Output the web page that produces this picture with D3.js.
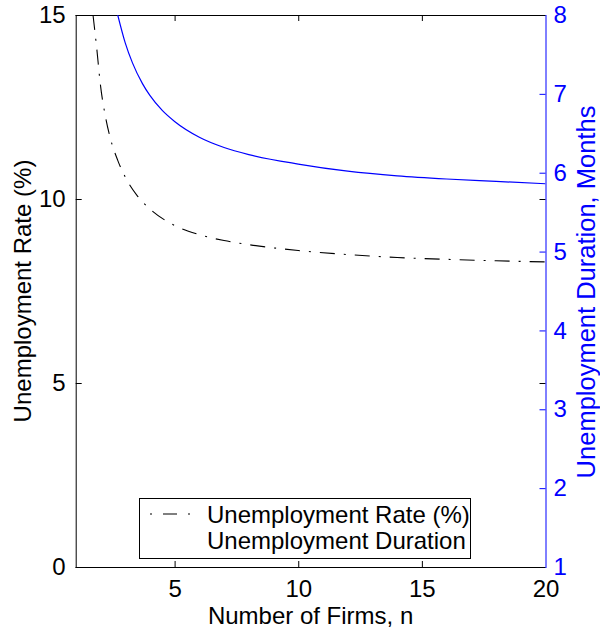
<!DOCTYPE html>
<html>
<head>
<meta charset="utf-8">
<script src="https://cdn.jsdelivr.net/npm/d3@7"></script>
<style>
  html, body { margin: 0; padding: 0; background: #fff; }
  svg { display: block; font-family: "Liberation Sans", Arial, Helvetica, sans-serif; }
</style>
</head>
<body>
<svg id="chart" width="600" height="636"></svg>
<script>
// ---- data ----
const firmsRate = [1.7, 1.85, 2.0, 2.2, 2.4, 2.7, 3.0, 3.5, 4.0, 5.0, 6.0, 7.0, 8.0, 10, 12, 14, 16, 18, 20];
const rateValues = [15.0, 14.1, 13.1, 12.25, 11.65, 11.05, 10.6, 10.08, 9.73, 9.28, 9.03, 8.87, 8.76, 8.6, 8.49, 8.41, 8.36, 8.32, 8.29];
const firmsDur = [2.7, 3.0, 3.3, 3.7, 4.0, 4.5, 5.0, 6.0, 7.0, 8.0, 10, 12, 14, 16, 18, 20];
const durValues = [8.0, 7.65, 7.39, 7.13, 6.98, 6.79, 6.65, 6.45, 6.32, 6.23, 6.11, 6.02, 5.96, 5.92, 5.89, 5.86];
const xTicks = [5, 10, 15, 20];
const yLeftTicks = [0, 5, 10, 15];
const yRightTicks = [1, 2, 3, 4, 5, 6, 7, 8];
const legendLabels = ["Unemployment Rate (%)", "Unemployment Duration"];
const xTitle = "Number of Firms, n";
const yLeftTitle = "Unemployment Rate (%)";
const yRightTitle = "Unemployment Duration, Months";

// ---- layout ----
const L = 75.7, R = 545.5, T = 15, B = 567;
const FS = 24;
const BLUE = "#0000ff";

const svg = d3.select("#chart");
const x = d3.scaleLinear().domain([1, 20]).range([L, R]);
const yL = d3.scaleLinear().domain([0, 15]).range([B, T]);
const yR = d3.scaleLinear().domain([1, 8]).range([B, T]);

svg.append("defs").append("clipPath").attr("id", "clip")
  .append("rect").attr("x", L).attr("y", T).attr("width", R - L).attr("height", B - T);

const tickLen = 6;
const fmt = d3.format("d");

const styleAxis = (g, color, hideLabels) => {
  g.select(".domain").remove();
  g.selectAll(".tick line").attr("stroke", color).attr("stroke-width", 1);
  g.selectAll(".tick text").attr("fill", color).attr("font-size", FS)
    .attr("font-family", "Liberation Sans, Arial, sans-serif");
  if (hideLabels) g.selectAll(".tick text").remove();
};

// bottom axis (ticks inward)
svg.append("g").attr("transform", `translate(0,${B})`)
  .call(d3.axisBottom(x).tickValues(xTicks).tickFormat(fmt).tickSizeInner(-tickLen).tickSizeOuter(0).tickPadding(13))
  .call(g => styleAxis(g, "#000", false))
  .call(g => g.selectAll(".tick").filter(d => d === 20).select("line").remove());
// top mirrored ticks
svg.append("g").attr("transform", `translate(0,${T})`)
  .call(d3.axisTop(x).tickValues(xTicks.filter(d => d < 20)).tickSizeInner(-tickLen).tickSizeOuter(0))
  .call(g => styleAxis(g, "#000", true));
// left axis
svg.append("g").attr("transform", `translate(${L},0)`)
  .call(d3.axisLeft(yL).tickValues(yLeftTicks).tickFormat(fmt).tickSizeInner(-tickLen).tickSizeOuter(0).tickPadding(10))
  .call(g => styleAxis(g, "#000", false));
// left ticks mirrored on right edge
svg.append("g").attr("transform", `translate(${R},0)`)
  .call(d3.axisRight(yL).tickValues(yLeftTicks.filter(d => d > 0 && d < 15)).tickSizeInner(-tickLen).tickSizeOuter(0))
  .call(g => styleAxis(g, "#000", true));
// right axis (blue)
svg.append("g").attr("transform", `translate(${R},0)`)
  .call(d3.axisRight(yR).tickValues(yRightTicks).tickFormat(fmt).tickSizeInner(-tickLen).tickSizeOuter(0).tickPadding(8))
  .call(g => styleAxis(g, BLUE, false));

// frame lines
svg.append("line").attr("x1", L).attr("x2", R).attr("y1", T + 0.5).attr("y2", T + 0.5).attr("stroke", "#000");
svg.append("line").attr("x1", L).attr("x2", R).attr("y1", B + 0.5).attr("y2", B + 0.5).attr("stroke", "#000");
svg.append("line").attr("x1", L + 0.5).attr("x2", L + 0.5).attr("y1", T).attr("y2", B + 1).attr("stroke", "#000");
svg.append("line").attr("x1", R + 0.5).attr("x2", R + 0.5).attr("y1", T).attr("y2", B + 1).attr("stroke", BLUE);

// curves
const rateLine = d3.line().x(d => x(d[0])).y(d => yL(d[1])).curve(d3.curveMonotoneX);
const durLine = d3.line().x(d => x(d[0])).y(d => yR(d[1])).curve(d3.curveMonotoneX);

svg.append("path")
  .datum(firmsRate.map((n, i) => [n, rateValues[i]]))
  .attr("clip-path", "url(#clip)")
  .attr("d", rateLine)
  .attr("fill", "none").attr("stroke", "#000").attr("stroke-width", 1.1)
  .attr("stroke-dasharray", "15,9,2,9");

svg.append("path")
  .datum(firmsDur.map((n, i) => [n, durValues[i]]))
  .attr("clip-path", "url(#clip)")
  .attr("d", durLine)
  .attr("fill", "none").attr("stroke", BLUE).attr("stroke-width", 1.2);

// legend
const lg = svg.append("g");
lg.append("rect").attr("x", 139.5).attr("y", 498.5).attr("width", 331).attr("height", 60)
  .attr("fill", "#fff").attr("stroke", "#000").attr("stroke-width", 1);
lg.append("line").attr("x1", 150).attr("x2", 192).attr("y1", 514).attr("y2", 514)
  .attr("stroke", "#000").attr("stroke-width", 1.1).attr("stroke-dasharray", "2,11,14,11,2");
lg.selectAll("text.leg").data(legendLabels).join("text").attr("class", "leg")
  .attr("x", 207).attr("y", (d, i) => 523 + i * 26)
  .attr("font-size", FS).attr("fill", "#000").text(d => d);

// axis titles
svg.append("text").attr("x", (L + R) / 2).attr("y", 624).attr("text-anchor", "middle")
  .attr("font-size", FS).text(xTitle);
svg.append("text").attr("transform", `translate(31,${(T + B) / 2}) rotate(-90)`)
  .attr("text-anchor", "middle").attr("font-size", FS).text(yLeftTitle);
svg.append("text").attr("transform", `translate(595,292) rotate(-90)`)
  .attr("text-anchor", "middle").attr("font-size", 25.5).attr("fill", BLUE).text(yRightTitle);
</script>
</body>
</html>
